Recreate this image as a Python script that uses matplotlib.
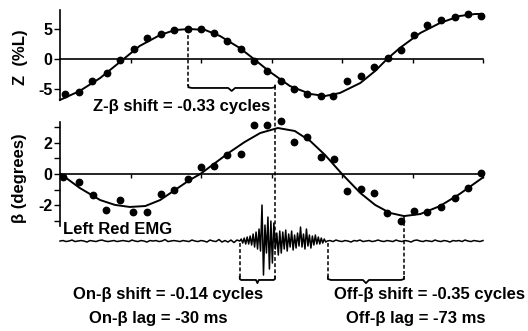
import numpy as np
import matplotlib.pyplot as plt

plt.rcParams['font.family'] = ['Liberation Sans', 'DejaVu Sans']

# Z (%L): measured points and fitted curve (x in tick units, 0..6)
z_x = [0.07, 0.27, 0.45, 0.67, 0.85, 1.05, 1.23, 1.43, 1.62, 1.82, 2.00, 2.18, 2.37, 2.57, 2.75, 2.94,
       3.13, 3.32, 3.50, 3.70, 3.87, 4.07, 4.27, 4.45, 4.65, 4.84, 5.02, 5.21, 5.40, 5.60, 5.79, 5.97]
z_pts = [-5.83, -5.5, -3.67, -2.33, -0.17, 1.67, 3.5, 4.17, 4.83, 5.0, 5.0, 4.33, 3.0, 1.67, -0.33, -2.0,
         -3.67, -5.0, -5.83, -6.17, -6.17, -3.67, -2.83, -1.33, 0.17, 1.5, 4.0, 5.67, 6.5, 7.0, 7.5, 7.17]
zfit_x = [0.0, 0.28, 0.57, 0.85, 1.13, 1.42, 1.63, 1.84, 2.06, 2.27, 2.55, 2.75, 2.98, 3.26, 3.55,
          3.76, 3.97, 4.26, 4.47, 4.64, 4.82, 5.11, 5.39, 5.67, 5.89, 6.0]
zfit = [-6.83, -5.33, -3.17, -0.5, 2.17, 4.0, 4.83, 5.0, 4.83, 3.83, 1.83, 0.0, -2.17, -4.5, -5.83,
        -6.17, -5.67, -4.0, -2.0, 0.0, 1.83, 4.33, 6.0, 7.17, 7.5, 7.5]

# beta (degrees): measured points and fitted curve
b_x = [0.04, 0.27, 0.47, 0.65, 0.85, 1.04, 1.23, 1.43, 1.62, 1.82, 2.00, 2.19, 2.37, 2.57, 2.75, 2.94,
       3.13, 3.32, 3.50, 3.70, 3.89, 4.07, 4.27, 4.45, 4.64, 4.84, 5.02, 5.21, 5.40, 5.60, 5.79, 5.97]
b_pts = [-0.19, -0.51, -1.34, -2.29, -1.66, -2.42, -2.42, -1.27, -1.02, -0.32, 0.45, 0.51, 1.21, 1.27,
         3.12, 3.12, 3.38, 2.04, 2.36, 1.08, 0.96, -1.08, -0.96, -1.21, -2.48, -2.99, -2.36, -2.42,
         -2.10, -1.53, -0.89, 0.06]
bfit_x = [0.01, 0.28, 0.57, 0.78, 0.99, 1.21, 1.42, 1.63, 1.84, 1.99, 2.2, 2.41, 2.62, 2.84, 3.09,
          3.33, 3.55, 3.76, 4.0, 4.26, 4.47, 4.68, 4.88, 5.11, 5.39, 5.67, 5.99]
bfit = [0.0, -0.89, -1.66, -1.97, -2.1, -2.04, -1.66, -1.02, -0.38, 0.0, 0.7, 1.4, 2.04, 2.61, 2.93,
        2.74, 2.1, 1.21, 0.0, -1.21, -1.97, -2.48, -2.68, -2.55, -2.04, -1.27, -0.25]

# Left Red EMG (arbitrary units, before / during / after the burst)
emg_pre = [0, 0.5, -0.5, 0, 1, -0.5, 0, 0.5, 0, -1, 0.5, 0, -0.5, 0.5, 1, 0, -0.5, 0, 0.5, -0.5,
           0, 0.5, 0, -0.5, 1, 0, -0.5, 0.5, 0, -1, 0.5, 0, 0.5, -0.5, 0, 1.5, -0.5, 0, 0.5, 0,
           -0.5, 0.5, 0, -0.5, 1, 0, -0.5, 0.5, 0, -1, 1, 0, -0.5, 1.5, -1, 0.5, -1, 1, -1.5, 1]
emg_burst = [0, 2, -2, 3, -3, 4, -3,
             5, -4, 7, -6, 9, -8, 12, -10,
             36, -34, 16, -12, 24, -28, 20, -22, 18, -8,
             8, -14, 10, -12, 9, -8, 11, -10, 7, -6, 10, -9, 6, -7, 8, -5,
             14, -6, 7, -8, 12, -5, 6, -7, 5, -4, 6, -3, 4, -3, 3, -2, 2, -1, 0]
emg_post = [0.5, -0.5, 1, 0, -0.5, 0.5, 0, -1, 0.5, 0, 1, -0.5, 0, 0.5, -0.5, 0, 1, 0, -0.5, 0.5,
            0, -0.5, 1, 0, -0.5, 0.5, 0, -1, 0.5, 1, 0, -0.5, 0.5, 0, -0.5, 1, 0, -0.5, 0.5, 0,
            -1, 0.5, 0, 0.5, -0.5, 1, 0, -0.5, 0.5, 0, -0.5, 0.5]

# event times
z_peak = 1.82
b_peak = 3.05
emg_on = 2.55
emg_off = 3.80
b_min = 4.88

W, H = 528, 331
fig = plt.figure(figsize=(W / 100, H / 100), dpi=100)

def px_axes(x0, y0, x1, y1):
    return fig.add_axes([x0 / W, 1 - y1 / H, (x1 - x0) / W, (y1 - y0) / H])

def style(ax, lo, hi, yt, ylab):
    for s in ['top', 'right']:
        ax.spines[s].set_visible(False)
    ax.spines['left'].set_bounds(lo, hi)
    ax.spines['left'].set_linewidth(1.2)
    ax.spines['bottom'].set_position(('data', 0))
    ax.spines['bottom'].set_bounds(0, 6)
    ax.spines['bottom'].set_linewidth(1.2)
    ax.set_xlim(0, 6)
    ax.set_xticks([1, 2, 3, 4, 5, 6])
    ax.set_xticklabels([])
    ax.tick_params(axis='x', direction='out', length=3, width=1)
    ax.set_yticks(yt)
    ax.set_yticklabels(ylab)
    ax.tick_params(axis='y', direction='out', length=4.5, width=1, labelsize=11.5, pad=1)
    for t in ax.get_yticklabels():
        t.set_fontweight('bold')
    ax.patch.set_visible(False)

def brace(ax, x0, x1, y, depth, notch):
    xm = (x0 + x1) / 2
    w = (x1 - x0) * 0.04
    ax.plot([x0, x0, x0 + w, xm - w, xm, xm + w, x1 - w, x1, x1],
            [y + depth, y + depth * 0.3, y, y, y - notch, y, y, y + depth * 0.3, y + depth],
            color='black', lw=1.3, clip_on=False)

dash = dict(color='black', lw=1.1, dashes=(2.5, 1.5), clip_on=False)

# ---- Z panel ----
ax_z = px_axes(60, 5, 483, 105)
ax_z.set_ylim(-7.67, 9.0)
style(ax_z, -6.83, 8.17, [-5, 0, 5], ['-5', '0', '5'])
ax_z.plot(zfit_x, zfit, color='black', lw=1.4, clip_on=False)
ax_z.plot(z_x, z_pts, 'o', color='black', ms=4.6, clip_on=False)
ax_z.plot([z_peak, z_peak], [5.0, -4.5], **dash)
brace(ax_z, z_peak, b_peak, -4.83, 0.4, 0.5)

# ---- beta panel + EMG ----
ax_b = px_axes(60, 115, 483, 290)
ax_b.set_ylim(-7.389, 3.758)
style(ax_b, -3.3, 3.3, [-3, -2, -1, 0, 1, 2, 3], ['', '-2', '', '0', '', '2', ''])
ax_b.plot(bfit_x, bfit, color='black', lw=1.4, clip_on=False)
ax_b.plot(b_x, b_pts, 'o', color='black', ms=4.6, clip_on=False)

emg_base = -4.27
emg_scale = 1 / 15.7
emg_x = np.concatenate([np.linspace(0, 2.51, len(emg_pre)),
                        np.linspace(2.55, 3.79, len(emg_burst)),
                        np.linspace(3.83, 6.0, len(emg_post))])
emg_y = emg_base + emg_scale * np.array(emg_pre + emg_burst + emg_post, dtype=float)
ax_b.plot(emg_x, emg_y, color='black', lw=1.1, clip_on=False)

yb = -6.75
ax_b.plot([b_peak, b_peak], [5.6, yb + 0.2], **dash)
ax_b.plot([emg_on, emg_on], [emg_base - 0.1, yb + 0.2], **dash)
ax_b.plot([emg_off, emg_off], [emg_base - 0.1, yb + 0.2], **dash)
ax_b.plot([b_min, b_min], [-2.68, yb + 0.2], **dash)
brace(ax_b, emg_on, b_peak, yb, 0.2, 0.2)
brace(ax_b, emg_off, b_min, yb, 0.2, 0.2)

# ---- text ----
fs = 12
def ftext(x, y, s, **kw):
    fig.text(x / W, 1 - y / H, s, fontsize=fs, fontweight='bold', **kw)

ftext(20, 57, 'Z  (%L)', rotation=90, ha='center', va='center')
ftext(20, 178, 'β (degrees)', rotation=90, ha='center', va='center')
ftext(182, 106, 'Z-β shift = -0.33 cycles', ha='center', va='center')
ftext(63, 229, 'Left Red EMG', ha='left', va='center')
ftext(168, 295, 'On-β shift = -0.14 cycles', ha='center', va='center')
ftext(158, 319, 'On-β lag = -30 ms', ha='center', va='center')
ftext(430, 295, 'Off-β shift = -0.35 cycles', ha='center', va='center')
ftext(416, 319, 'Off-β lag = -73 ms', ha='center', va='center')

fig.savefig('out.png', dpi=100)
